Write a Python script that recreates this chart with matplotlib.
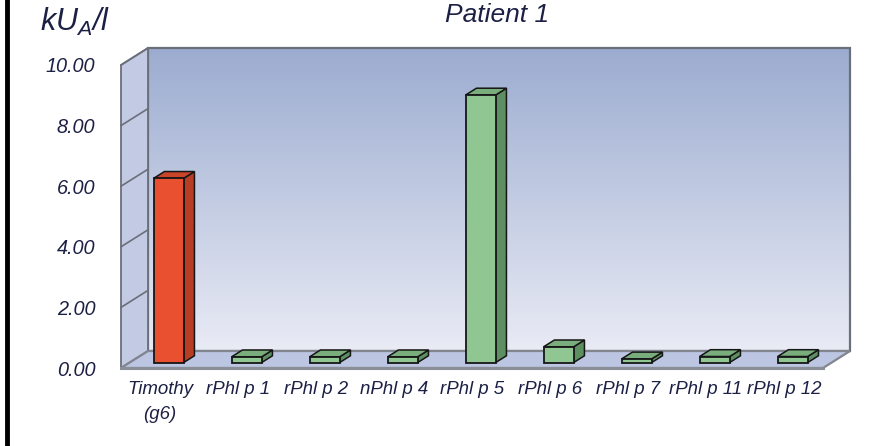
import numpy as np
import matplotlib
matplotlib.use("Agg")
import matplotlib.pyplot as plt
from matplotlib.patches import Polygon
from matplotlib.colors import LinearSegmentedColormap

# allergen components and measured levels (kU_A/l)
allergens = ["Timothy\n(g6)", "rPhl p 1", "rPhl p 2", "nPhl p 4", "rPhl p 5",
             "rPhl p 6", "rPhl p 7", "rPhl p 11", "rPhl p 12"]
levels = [6.08, 0.19, 0.19, 0.19, 8.83, 0.52, 0.12, 0.2, 0.2]
bar_colors = ["red", "green", "green", "green", "green",
              "green", "green", "green", "green"]
y_ticks = [0, 2, 4, 6, 8, 10]

face = {"red": ("#e8502f", "#b73d24", "#c94429"),
        "green": ("#8fc692", "#5e8f62", "#79ad7c")}

plt.rcParams["font.family"] = ["Liberation Sans", "DejaVu Sans"]
plt.rcParams["font.style"] = "italic"
plt.rcParams["mathtext.fontset"] = "custom"
plt.rcParams["mathtext.it"] = "Liberation Sans:italic"
plt.rcParams["mathtext.rm"] = "Liberation Sans:italic"
text_color = "#1b2044"

W, H = 875, 446
fig = plt.figure(figsize=(W / 100, H / 100), dpi=100)
fig.patch.set_facecolor("white")
ax = fig.add_axes([121 / W, 1 - 368 / H, 702 / W, 303 / H])
ax.set_xlim(-0.5, len(allergens) - 0.5)
ax.set_ylim(0, 10)
ax.patch.set_alpha(0)
for s in ax.spines.values():
    s.set_visible(False)

# depth offsets of the back wall in data units
DX = 27 / 78
DY = 17 / 30.3
x_left, x_right = -0.5, len(allergens) - 0.5


def proj(x, v, d):
    return (x + d * DX, v + d * DY)


wall_edge = "#6b6f79"

# back wall with vertical gradient
grad = LinearSegmentedColormap.from_list("wall", ["#e9ebf5", "#9cacd0"])
ax.imshow(np.linspace(0, 1, 256).reshape(-1, 1), cmap=grad, origin="lower",
          extent=(x_left + DX, x_right + DX, DY, 10 + DY), aspect="auto",
          clip_on=False, zorder=0, interpolation="bicubic")
back = [proj(x_left, 0, 1), proj(x_right, 0, 1), proj(x_right, 10, 1), proj(x_left, 10, 1)]
ax.add_patch(Polygon(back, closed=True, fill=False, edgecolor=wall_edge, lw=1.6,
                     clip_on=False, zorder=1))

# side wall
side = [proj(x_left, 0, 0), proj(x_left, 10, 0), proj(x_left, 10, 1), proj(x_left, 0, 1)]
ax.add_patch(Polygon(side, closed=True, facecolor="#c2cae4", edgecolor=wall_edge,
                     lw=1.3, clip_on=False, zorder=1))
for v in y_ticks[1:]:
    p0, p1 = proj(x_left, v, 0), proj(x_left, v, 1)
    ax.plot([p0[0], p1[0]], [p0[1], p1[1]], color=wall_edge, lw=1.2,
            clip_on=False, zorder=1)

# floor
floor = [proj(x_left, 0, 0), proj(x_right, 0, 0), proj(x_right, 0, 1), proj(x_left, 0, 1)]
ax.add_patch(Polygon(floor, closed=True, facecolor="#bcc6e3", edgecolor="#80858f",
                     lw=1.6, clip_on=False, zorder=1))
ax.plot([x_left, x_right], [0, 0], color="#8a8e96", lw=2.2, clip_on=False, zorder=1)

# 3d columns
w = 0.385
d0, d1 = 0.32, 0.72
xs = np.arange(len(allergens))
front_cols = [face[c][0] for c in bar_colors]
ax.bar(xs + d0 * DX, levels, width=w, bottom=d0 * DY, color=front_cols,
       edgecolor="#161616", lw=1.3, zorder=3, clip_on=False)
for x, v, c in zip(xs, levels, bar_colors):
    xa, xb = x - w / 2, x + w / 2
    right = [proj(xb, 0, d0), proj(xb, v, d0), proj(xb, v, d1), proj(xb, 0, d1)]
    top = [proj(xa, v, d0), proj(xb, v, d0), proj(xb, v, d1), proj(xa, v, d1)]
    ax.add_patch(Polygon(right, closed=True, facecolor=face[c][1], edgecolor="#161616",
                         lw=1.1, zorder=2, clip_on=False))
    ax.add_patch(Polygon(top, closed=True, facecolor=face[c][2], edgecolor="#161616",
                         lw=1.1, zorder=2, clip_on=False))

ax.set_yticks(y_ticks)
ax.set_yticklabels([f"{v:.2f}" for v in y_ticks], fontsize=14.3, color=text_color)
ax.set_xticks(xs)
ax.set_xticklabels(allergens, fontsize=13.4, color=text_color, linespacing=1.65)
ax.tick_params(axis="y", length=0, pad=18.5)
ax.tick_params(axis="x", length=0, pad=9)

fig.text(497 / W, 1 - 15 / H, "Patient 1", ha="center", va="center",
         fontsize=19, color=text_color)
fig.text(40 / W, 1 - 31 / H, "$kU_A/l$", ha="left", va="baseline",
         fontsize=22, color=text_color)

# left border line
fig.add_artist(plt.Line2D([7 / W, 7 / W], [0, 1], color="black", lw=3.5))

fig.savefig("out.png", dpi=100)
